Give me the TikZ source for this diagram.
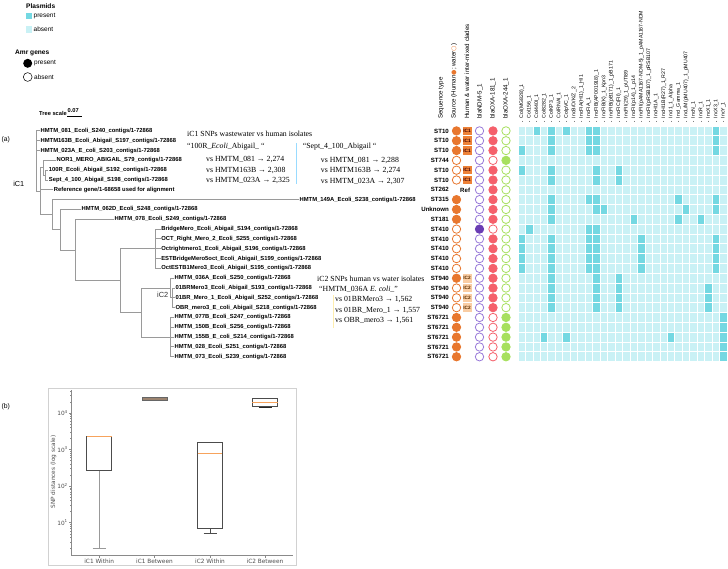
\documentclass[tikz,border=0pt]{standalone}
\usepackage{fontspec}
\setmainfont{Liberation Serif}
\setsansfont{Liberation Sans}
\newfontfamily\djv{DejaVu Sans}
\definecolor{orng}{HTML}{E8772E}
\definecolor{icone}{HTML}{EE8238}
\definecolor{ictwo}{HTML}{F9CDA4}
\definecolor{ndmc}{HTML}{9879D9}
\definecolor{ndmf}{HTML}{6A3DB4}
\definecolor{oxac}{HTML}{F5606B}
\definecolor{grnc}{HTML}{A7E05E}
\definecolor{pres}{HTML}{74D8E2}
\definecolor{absn}{HTML}{C9F1F5}
\definecolor{treec}{HTML}{9A9A9A}
\definecolor{medc}{HTML}{F7A35C}
\definecolor{axc}{HTML}{8A8A8A}
\definecolor{btw}{HTML}{9C8470}
\begin{document}
\begin{tikzpicture}[x=1pt,y=-1pt,
  leaf/.style={anchor=west,inner sep=0.4pt,font=\fontsize{5.85}{6}\selectfont\sffamily\bfseries},
  tree/.style={draw=treec,line width=0.9pt},
  hdr/.style={rotate=90,anchor=west,inner sep=0pt,font=\fontsize{6.2}{7}\selectfont\sffamily},
  phdr/.style={rotate=90,anchor=west,inner sep=0pt,font=\fontsize{5.2}{6}\selectfont\sffamily},
  stl/.style={anchor=east,inner sep=0pt,font=\fontsize{6.1}{7}\selectfont\sffamily\bfseries},
  dot/.style={circle,minimum size=8.4pt,inner sep=0pt,line width=0.8pt},
  srcF/.style={dot,draw=orng,fill=orng},
  srcO/.style={dot,draw=orng,fill=white},
  srcN/.style={dot},
  ndmO/.style={dot,draw=ndmc,fill=white},
  ndmF/.style={dot,draw=ndmf,fill=ndmf},
  oxaF/.style={dot,draw=oxac,fill=oxac},
  oxaO/.style={dot,draw=oxac,fill=white},
  grF/.style={dot,draw=grnc,fill=grnc},
  grO/.style={dot,draw=grnc,fill=white},
  clbox/.style={minimum width=9pt,minimum height=8.6pt,inner sep=0pt,font=\fontsize{4.7}{5}\selectfont\sffamily\bfseries},
  clI/.style={clbox,fill=icone,text=black!75!red,node contents={IC1}},
  clT/.style={clbox,fill=ictwo,text=black!65!orange,node contents={IC2}},
  clR/.style={inner sep=0pt,anchor=west,xshift=-7pt,font=\fontsize{6.1}{7}\selectfont\sffamily\bfseries,node contents={Ref}},
  clN/.style={clbox,node contents={}},
  ann/.style={anchor=west,inner sep=0pt,font=\fontsize{7.8}{9}\selectfont\rmfamily},
  leg/.style={anchor=west,inner sep=0pt,font=\fontsize{6.5}{7}\selectfont\sffamily},
  legt/.style={anchor=west,inner sep=0pt,font=\fontsize{6.6}{7}\selectfont\sffamily\bfseries},
  bp/.style={inner sep=0pt,font=\fontsize{5.8}{6}\selectfont\djv,text=black!70},
  boxe/.style={draw=black!70,line width=0.7pt,fill=white},
  whisk/.style={draw=black!40,line width=1.3pt},
  med/.style={draw=medc,line width=0.9pt}
]
\useasboundingbox (0,0) rectangle (728,568);
% ---------- legend ----------
\node[legt] (plt) at (26,6.5) {Plasmids};
\fill[pres] (26,12.7) rectangle (32,19.3);
\node[leg] (lp) at (33.5,16) {present};
\fill[absn] (26,26) rectangle (32,32.7);
\node[leg] (la) at (33.5,29.5) {absent};
\node[legt] (amr) at (15,53) {Amr genes};
\fill[black] (27.7,63.3) circle (4.5);
\node[leg] (ap) at (34,63.3) {present};
\draw[black,line width=0.5pt,fill=white] (27.7,77) circle (4.4);
\node[leg] (aa) at (34,77) {absent};
\node[legt,font=\fontsize{5.7}{6}\selectfont\sffamily\bfseries] (ts) at (39,113) {Tree scale};
\node[legt,font=\fontsize{5.7}{6}\selectfont\sffamily\bfseries] (tsv) at (67.5,110.3) {0.07};
\draw[black,line width=0.7pt] (67,116) -- (82,116);
\node[leg,font=\fontsize{6.8}{7}\selectfont\sffamily] (pa) at (1.5,139.3) {(a)};
\node[leg,font=\fontsize{6.8}{7}\selectfont\sffamily] (pb) at (1.5,406.7) {(b)};
% ---------- leaves ----------
\foreach \rr/\xs/\tt in {
 1/40/HMTM\_081\_Ecoli\_S240,
 2/40/HMTM163B\_Ecoli\_Abigail\_S197,
 3/40/HMTM\_023A\_E\_coli\_S203,
 4/56/NOR1\_MERO\_ABIGAIL\_S79,
 5/48.3/100R\_Ecoli\_Abigail\_S192,
 6/48.3/Sept\_4\_100\_Abigail\_S198,
 8/299/HMTM\_149A\_Ecoli\_S238,
 9/81/HMTM\_062D\_Ecoli\_S248,
 10/114/HMTM\_078\_Ecoli\_S249,
 11/160.7/BridgeMero\_Ecoli\_Abigail\_S194,
 12/160.7/OCT\_Right\_Mero\_2\_Ecoli\_S255,
 13/160.7/Octrightmero1\_Ecoli\_Abigail\_S196,
 14/160.7/ESTBridgeMero5oct\_Ecoli\_Abigail\_S199,
 15/160.7/OctESTB1Mero3\_Ecoli\_Abigail\_S195,
 16/174/HMTM\_036A\_Ecoli\_S250,
 17/175/01BRMero3\_Ecoli\_Abigail\_S193,
 18/175/01BR\_Mero\_1\_Ecoli\_Abigail\_S252,
 19/175/OBR\_mero3\_E\_coli\_Abigail\_S218,
 20/174/HMTM\_077B\_Ecoli\_S247,
 21/174/HMTM\_150B\_Ecoli\_S256,
 22/174/HMTM\_155B\_E\_coli\_S214,
 23/174/HMTM\_028\_Ecoli\_S251,
 24/174/HMTM\_073\_Ecoli\_S239}{
 \pgfmathsetmacro\yy{130.9+9.82*(\rr-1)}
 \node[leaf] (L\rr) at (\xs,\yy) {\tt\_contigs/1-72868};
}
\node[leaf] (L7) at (53.3,189.8) {Reference gene/1-68658 used for alignment};
% ---------- tree ----------
\coordinate (E) at (36,160.9);
\coordinate (X) at (40,191);
\coordinate (C) at (45,175.1);
\coordinate (B) at (43,167.75);
\coordinate (N155) at (155,248.7);
\coordinate (Nsub) at (172,297.8);
\coordinate (NiC2) at (170,288);
\coordinate (N6721) at (170,337.1);
\coordinate (N141) at (141.7,312.55);
\coordinate (N120) at (120,280.6);
\coordinate (N75) at (75,249.95);
\coordinate (N60) at (60,229.7);
\coordinate (N51) at (52,214.65);
\foreach \p/\q in {E/L1,E/L2,E/L3,E/X,C/L5,C/L6,B/L4,B/C,X/B,X/L7,X/N51,
  N51/L8,N51/N60,N60/L9,N60/N75,N75/L10,N75/N120,N120/N155,N120/N141,
  N155/L11,N155/L12,N155/L13,N155/L14,N155/L15,N141/NiC2,N141/N6721,
  NiC2/L16,NiC2/Nsub,Nsub/L17,Nsub/L18,Nsub/L19,
  N6721/L20,N6721/L21,N6721/L22,N6721/L23,N6721/L24}
  \draw[tree] (\p) |- (\q.west);
\node[anchor=east,inner sep=0pt,font=\fontsize{7.3}{8}\selectfont\sffamily] (ic1) at (24.5,184) {iC1};
\node[anchor=east,inner sep=0pt,font=\fontsize{7.4}{8}\selectfont\sffamily,text=black!80] (ic2) at (168.5,295) {iC2};
% ---------- annotations ----------
\node[ann] (t1) at (187,133.5) {iC1 SNPs wastewater vs human isolates};
\node[ann] (t2) at (187,146.5) {“100R\_\textit{Ecoli}\_Abigail\_ “};
\node[ann] (t3) at (206,159.8) {vs HMTM\_081 → 2,274};
\node[ann] (t4) at (206,170.3) {vs HMTM163B → 2,308};
\node[ann] (t5) at (206,180.8) {vs HMTM\_023A → 2,325};
\node[ann] (u2) at (302.7,146.8) {“Sept\_4\_100\_Abigail “};
\node[ann] (u3) at (320.7,160.3) {vs HMTM\_081 → 2,288};
\node[ann] (u4) at (320.7,170.8) {vs HMTM163B → 2,274};
\node[ann] (u5) at (320.7,181.2) {vs HMTM\_023A → 2,307};
\draw[draw=blue!35!cyan!40,line width=0.6pt] (296,143) -- (296,184);
\node[ann] (w1) at (317,279) {iC2 SNPs human vs water isolates};
\node[ann] (w2) at (319,289.5) {“HMTM\_036A \textit{E. coli}\_”};
\node[ann] (w3) at (335,300) {vs 01BRMero3 → 1,562};
\node[ann] (w4) at (335,310.4) {vs 01BR\_Mero\_1 → 1,557};
\node[ann] (w5) at (335,320.9) {vs OBR\_mero3 → 1,561};
\draw[draw=yellow!60!orange!30,line width=0.6pt] (333,295) -- (333,328);
% ---------- headers ----------
\node[hdr] (h1) at (441,119) {Sequence type};
\node[hdr] (h2) at (454,119) {Source (Human{\djv\color{orng}●}; water{\djv\color{orng}○})};
\node[hdr] (h3) at (467,119) {Human \& water inter-mixed clades};
\node[hdr] (h4) at (480,119) {blaNDM-5\_1};
\node[hdr] (h5) at (493,119) {blaOXA-181\_1};
\node[hdr] (h6) at (506,119) {blaOXA-244\_1};
\foreach \c/\tt in {0/{Col(MG828)\_1},1/{Col156\_1},2/{Col440I\_1},3/{Col8282\_1},4/{ColKP3\_1},
 5/{ColRNAI\_1},6/{ColpVC\_1},7/{IncB/O/K/Z\_2},8/{IncFIA(HI1)\_1\_HI1},9/{IncFIA\_1},
 10/{IncFIB(AP001918)\_1},11/{IncFIB(K)\_1\_Kpn3},12/{IncFIB(pB171)\_1\_pB171},13/{IncFIC(FII)\_1},
 14/{IncFII(29)\_1\_pUTI89},15/{IncFII(p14)\_1\_p14},16/{IncFII(pAMA1167-NDM-5)\_1\_pAMA1167-NDM},
 17/{IncFII(pRSB107)\_1\_pRSB107},18/{IncHI1A\_1},19/{IncHI1B(R27)\_1\_R27},20/{IncI1\_1\_Alpha},
 21/{IncI\_Gamma\_1},22/{IncL/M(pMU407)\_1\_pMU407},23/{IncN\_1},24/{IncR\_1},25/{IncX1\_1},
 26/{IncX3\_1},27/{IncY\_1}}{
 \node[phdr] (ph\c) at (518+7.47*\c+3.73,118.5) {\tt};
 \draw[black!50,line width=0.4pt] (518+7.47*\c+3.73,120.6) -- (518+7.47*\c+3.73,122.4);
}
% ---------- heatmap ----------
\fill[absn] (518,126) rectangle (727.2,361.7);
\foreach \rr/\cs in {1/{2,4,6,9,10,26},2/{4,9,10,26},3/{0,4,9,10,26},5/{0,4,10,13},6/{4,10,13},
 8/{4,9,10,21,26},9/{4,10,11,22,26},10/{4,15,21,24},11/{1,9,10},12/{0,4,9,10,16,26},
 13/{0,4,9,10,16,26},14/{0,4,9,10,16,26},15/{0,4,9,10,16,26},16/{4,10,13},17/{4,10,13,25},
 18/{4,10,13,25},19/{4,10,13,25},20/{27},21/{27},22/{3,6,20,27},23/{27},24/{27}}{
 \foreach \c in \cs {\fill[pres] (518+7.47*\c,126+9.82*\rr-9.82) rectangle ++(7.47,9.82);}
}
\foreach \c in {0,...,28} \draw[white,line width=0.8pt] (518+7.47*\c,126) -- (518+7.47*\c,361.7);
\foreach \rr in {0,...,24} \draw[white,line width=0.8pt] (518,126+9.82*\rr) -- (727.2,126+9.82*\rr);
% ---------- row symbols ----------
\foreach \rr/\stt/\sr/\cla/\nd/\ox/\gg in {
 1/ST10/srcF/clI/ndmO/oxaF/grO,2/ST10/srcF/clI/ndmO/oxaF/grO,3/ST10/srcF/clI/ndmO/oxaF/grO,
 4/ST744/srcO/clN/ndmO/oxaO/grF,5/ST10/srcO/clI/ndmO/oxaF/grO,6/ST10/srcO/clI/ndmO/oxaF/grO,
 7/ST262/srcN/clR/ndmO/oxaF/grO,8/ST315/srcF/clN/ndmO/oxaF/grO,9/Unknown/srcF/clN/ndmO/oxaF/grO,
 10/ST181/srcF/clN/ndmO/oxaF/grO,11/ST410/srcO/clN/ndmF/oxaO/grO,12/ST410/srcO/clN/ndmO/oxaF/grO,
 13/ST410/srcO/clN/ndmO/oxaF/grO,14/ST410/srcO/clN/ndmO/oxaF/grO,15/ST410/srcO/clN/ndmO/oxaF/grO,
 16/ST940/srcF/clT/ndmO/oxaF/grO,17/ST940/srcO/clT/ndmO/oxaF/grO,18/ST940/srcO/clT/ndmO/oxaF/grO,
 19/ST940/srcO/clT/ndmO/oxaF/grO,20/ST6721/srcF/clN/ndmO/oxaO/grF,21/ST6721/srcF/clN/ndmO/oxaO/grF,
 22/ST6721/srcF/clN/ndmO/oxaO/grF,23/ST6721/srcF/clN/ndmO/oxaO/grF,24/ST6721/srcF/clN/ndmO/oxaO/grF}{
 \pgfmathsetmacro\yy{130.9+9.82*(\rr-1)}
 \node[stl] (st\rr) at (449,\yy) {\stt};
 \node[\sr] (src\rr) at (456.5,\yy) {};
 \node (cl\rr) at (467,\yy) [\cla];
 \node[\nd] (ndm\rr) at (479.5,\yy) {};
 \node[\ox] (oxa\rr) at (493,\yy) {};
 \node[\gg] (gr\rr) at (506,\yy) {};
}
% ---------- box plot ----------
\draw[black!18,line width=1.3pt] (48.3,388.3) rectangle (296.3,565.7);
\draw[axc,line width=0.7pt] (71.5,390) -- (71.5,555) -- (292.7,555);
\foreach \v in {1,2,3,4}{
 \draw[axc,line width=0.6pt] (71.5,559.3-36.6*\v) -- (68.5,559.3-36.6*\v);
 \node[bp,anchor=east] (yt\v) at (68,559.3-36.6*\v) {10\textsuperscript{\v}};
}
\foreach \d in {0,1,2,3}{
 \foreach \m in {0.301,0.477,0.602,0.699,0.778,0.845,0.903,0.954}
  \draw[axc,line width=0.4pt] (71.5,559.3-36.6*\d-36.6*\m) -- (69.8,559.3-36.6*\d-36.6*\m);
}
\foreach \m in {0.301,0.477,0.602}
  \draw[axc,line width=0.4pt] (71.5,559.3-146.4-36.6*\m) -- (69.8,559.3-146.4-36.6*\m);
\node[bp,rotate=90] (ylab) at (53.5,472) {SNP distances (log scale)};
\foreach \xx/\lab [count=\i] in {99.2/iC1 Within,154.5/iC1 Between,210/iC2 Within,265/iC2 Between}{
 \draw[axc,line width=0.6pt] (\xx,555) -- (\xx,557.5);
 \node[bp] (xl\i) at (\xx,561) {\lab};
}
% iC1 Within
\draw[whisk] (99.2,470.7) -- (99.2,548.3);
\draw[whisk] (92.7,548.3) -- (105.7,548.3);
\draw[boxe] (86.7,436) rectangle (111.7,470.7);
\draw[med] (86.7,436) -- (111.7,436);
% iC1 Between
\draw[draw=black!60,line width=0.6pt,fill=btw] (141.9,397.7) rectangle (167.1,400.1);
% iC2 Within
\draw[draw=black!70,line width=0.8pt] (210,528.7) -- (210,533.3);
\draw[draw=black!70,line width=0.8pt] (203.5,533.3) -- (216.5,533.3);
\draw[boxe] (197.7,442.3) rectangle (222.3,528.7);
\draw[med] (197.7,453.3) -- (222.3,453.3);
% iC2 Between
\draw[boxe] (252.4,398.3) rectangle (277.6,406.7);
\draw[med] (252.4,402.5) -- (277.6,402.5);
\draw[draw=black!85,line width=0.9pt] (258.5,407.3) -- (271.5,407.3);
\end{tikzpicture}
\end{document}
